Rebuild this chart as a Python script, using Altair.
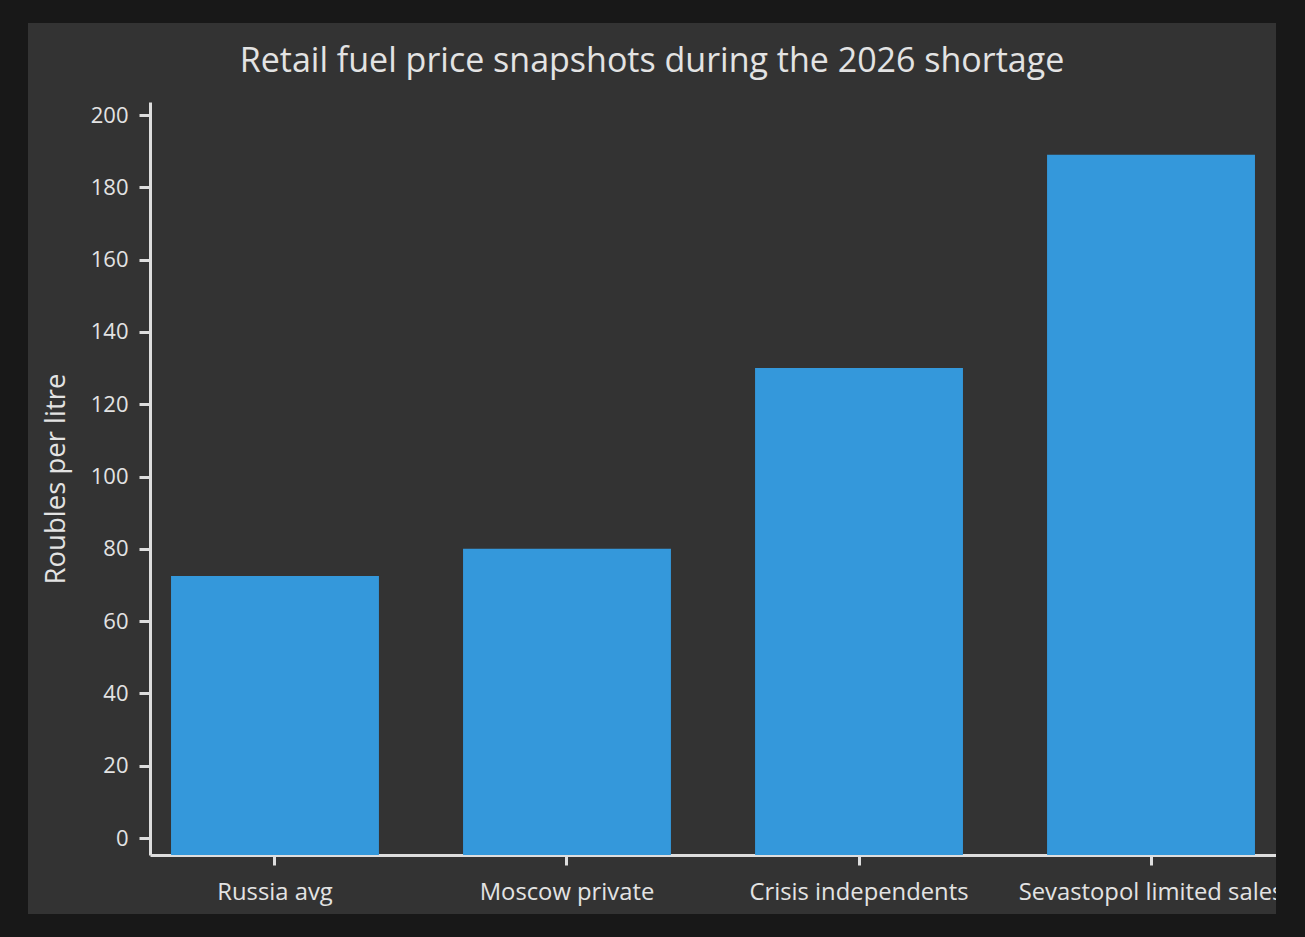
import altair as alt
import pandas as pd

# ---- data ----
categories = ["Russia avg", "Moscow private", "Crisis independents", "Sevastopol limited sales"]
prices = [72.5, 80, 130, 189]
y_ticks = [0, 20, 40, 60, 80, 100, 120, 140, 160, 180, 200]
y_domain = [-4.7, 203.6]

TITLE = "Retail fuel price snapshots during the 2026 shortage"
Y_TITLE = "Roubles per litre"

FONT = "Open Sans"
PANEL = "#333333"
FRAME = "#181818"
TEXT = "#e3e3e3"
AXIS = "#dedede"
BAR = "#3498db"

W, H = 1126, 753          # plot area
PAD_L, PAD_T, PAD_R, PAD_B = 150, 102, 29, 82

df = pd.DataFrame({
    "category": categories,
    "price": prices,
    "base": [y_domain[0]] * len(categories),
})
one = pd.DataFrame({"k": [0]})

x_enc = alt.X(
    "category:N",
    sort=categories,
    scale=alt.Scale(paddingInner=0.288, paddingOuter=0.072),
    axis=alt.Axis(
        title=None, labelAngle=0, labelFontSize=23.8, labelPadding=15, labelLimit=500,
        tickSize=10, tickWidth=3, domainWidth=3,
    ),
)
y_enc = alt.Y(
    "price:Q",
    scale=alt.Scale(domain=y_domain, nice=False, zero=False),
    axis=alt.Axis(
        title=Y_TITLE, values=y_ticks, titleFontSize=27.5, titleFontWeight="normal",
        titlePadding=20, labelFontSize=22, labelPadding=11, tickSize=11, tickWidth=3,
        domainWidth=3, grid=False,
    ),
)

bars = alt.Chart(df).mark_bar(color=BAR).encode(
    x=x_enc, y=y_enc, y2="base:Q"
)

# dark frame around the panel (drawn over any overflow of the axis labels)
def frame(x0, x1, y0, y1):
    return alt.Chart(one).mark_rect(color=FRAME).encode(
        x=alt.value(x0), x2=alt.value(x1), y=alt.value(y0), y2=alt.value(y1)
    )

frames = [
    frame(-PAD_L, W + PAD_R, -PAD_T, 23 - PAD_T),            # top
    frame(-PAD_L, W + PAD_R, 914 - PAD_T, H + PAD_B),         # bottom
    frame(-PAD_L, 28 - PAD_L, -PAD_T, H + PAD_B),             # left
    frame(1276 - PAD_L, W + PAD_R, -PAD_T, H + PAD_B),        # right
]

chart = alt.layer(bars, *frames).properties(
    width=W,
    height=H,
    padding={"left": PAD_L, "top": PAD_T, "right": PAD_R, "bottom": PAD_B},
    autosize=alt.AutoSizeParams(type="none"),
    background=PANEL,
    title=alt.TitleParams(
        TITLE, fontSize=34, font=FONT, fontWeight="normal", color=TEXT,
        anchor="middle", dx=-61, baseline="alphabetic", offset=-106,
    ),
).configure_view(
    stroke=None
).configure_axis(
    labelFont=FONT, titleFont=FONT, labelColor=TEXT, titleColor=TEXT,
    domainColor=AXIS, tickColor=AXIS,
)

chart.save("out.html", embed_options={"renderer": "svg", "actions": False})
